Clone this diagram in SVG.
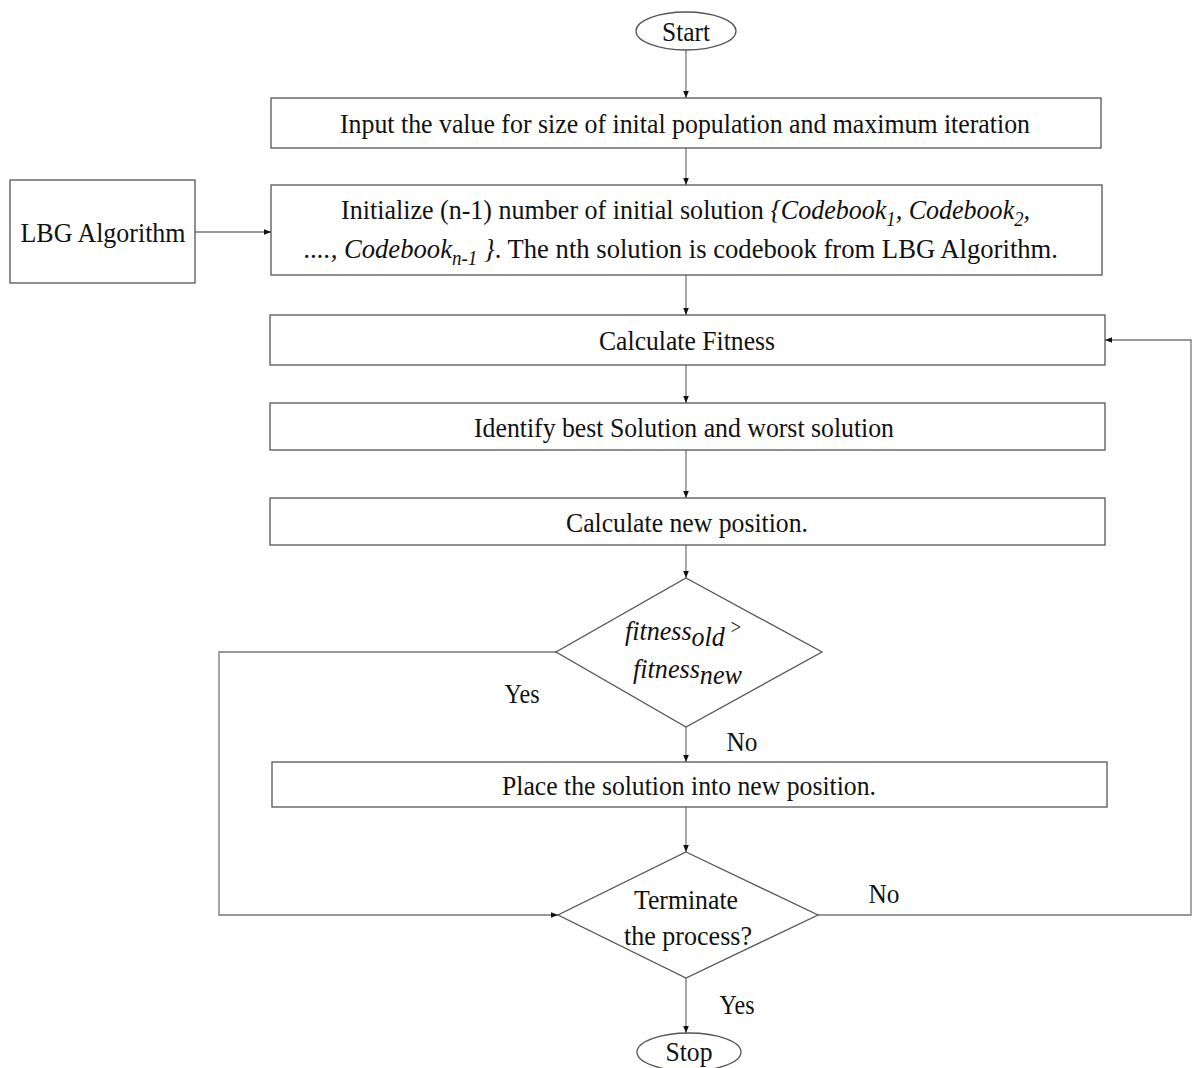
<svg xmlns="http://www.w3.org/2000/svg" width="1192" height="1068" viewBox="0 0 1192 1068">
<style>
.box{fill:#fff;stroke:#555;stroke-width:1.3}
.ln{fill:none;stroke:#777;stroke-width:1.3}
.t{font-family:"Liberation Serif","Times New Roman",serif;font-size:28px;fill:#111;text-anchor:middle}
.i{font-style:italic}
</style>
<defs>
<marker id="ah" viewBox="0 0 10 10" refX="10" refY="5" markerWidth="7" markerHeight="7" markerUnits="userSpaceOnUse" orient="auto">
<path d="M0,1 L10,5 L0,9 Z" fill="#111"/>
</marker>
</defs>
<rect width="1192" height="1068" fill="#fff"/>
<g id="connectors">
<line class="ln" x1="686" y1="50" x2="686" y2="98" marker-end="url(#ah)"/>
<line class="ln" x1="686" y1="148" x2="686" y2="185" marker-end="url(#ah)"/>
<line class="ln" x1="195" y1="232" x2="271" y2="232" marker-end="url(#ah)"/>
<line class="ln" x1="686" y1="275" x2="686" y2="315" marker-end="url(#ah)"/>
<line class="ln" x1="686" y1="365" x2="686" y2="403" marker-end="url(#ah)"/>
<line class="ln" x1="686" y1="450" x2="686" y2="498" marker-end="url(#ah)"/>
<line class="ln" x1="686" y1="545" x2="686" y2="578" marker-end="url(#ah)"/>
<line class="ln" x1="686" y1="727" x2="686" y2="762" marker-end="url(#ah)"/>
<line class="ln" x1="686" y1="807" x2="686" y2="852" marker-end="url(#ah)"/>
<line class="ln" x1="686" y1="978" x2="686" y2="1033" marker-end="url(#ah)"/>
<polyline class="ln" points="556,652 219,652 219,915 558,915" marker-end="url(#ah)"/>
<polyline class="ln" points="818,915 1191,915 1191,340 1105,340" marker-end="url(#ah)"/>
<text class="t" x="522" y="703" textLength="35" lengthAdjust="spacingAndGlyphs">Yes</text>
<text class="t" x="742" y="751" textLength="31" lengthAdjust="spacingAndGlyphs">No</text>
<text class="t" x="884" y="903" textLength="31" lengthAdjust="spacingAndGlyphs">No</text>
<text class="t" x="737" y="1014" textLength="35" lengthAdjust="spacingAndGlyphs">Yes</text>
</g>
<g id="start">
<ellipse class="box" cx="686" cy="31" rx="50" ry="19"/>
<text class="t" x="686" y="41" textLength="48" lengthAdjust="spacingAndGlyphs">Start</text>
</g>
<g id="input">
<rect class="box" x="271" y="98" width="830" height="50"/>
<text class="t" x="685" y="133" textLength="690" lengthAdjust="spacingAndGlyphs">Input the value for size of inital population and maximum iteration</text>
</g>
<g id="lbg">
<rect class="box" x="10" y="180" width="185" height="103"/>
<text class="t" x="103" y="242" textLength="165" lengthAdjust="spacingAndGlyphs">LBG Algorithm</text>
</g>
<g id="init">
<rect class="box" x="271" y="185" width="831" height="90"/>
<text class="t" x="341" y="219" style="text-anchor:start" textLength="689" lengthAdjust="spacingAndGlyphs">Initialize (n-1) number of initial solution <tspan class="i">{Codebook<tspan font-size="20" dy="7">1</tspan><tspan dy="-7">, Codebook</tspan><tspan font-size="20" dy="7">2</tspan><tspan dy="-7">,</tspan></tspan></text>
<text class="t" x="304" y="258" style="text-anchor:start" textLength="754" lengthAdjust="spacingAndGlyphs"><tspan class="i">...., Codebook<tspan font-size="20" dy="7">n-1</tspan><tspan dy="-7"> }</tspan></tspan>. The nth solution is codebook from LBG Algorithm.</text>
</g>
<g id="fitness">
<rect class="box" x="270" y="315" width="835" height="50"/>
<text class="t" x="687" y="350" textLength="176" lengthAdjust="spacingAndGlyphs">Calculate Fitness</text>
</g>
<g id="identify">
<rect class="box" x="270" y="403" width="835" height="47"/>
<text class="t" x="684" y="437" textLength="420" lengthAdjust="spacingAndGlyphs">Identify best Solution and worst solution</text>
</g>
<g id="newpos">
<rect class="box" x="270" y="498" width="835" height="47"/>
<text class="t" x="687" y="532" textLength="242" lengthAdjust="spacingAndGlyphs">Calculate new position.</text>
</g>
<g id="compare">
<polygon class="box" points="686,578 822,652 686,727 556,652"/>
<text class="t i" x="625" y="640" style="text-anchor:start" textLength="117" lengthAdjust="spacingAndGlyphs">fitness<tspan dy="6">old</tspan><tspan dy="-12" font-size="20"> &gt;</tspan></text>
<text class="t i" x="633" y="678" style="text-anchor:start" textLength="109" lengthAdjust="spacingAndGlyphs">fitness<tspan dy="6">new</tspan></text>
</g>
<g id="place">
<rect class="box" x="272" y="762" width="835" height="45"/>
<text class="t" x="689" y="795" textLength="374" lengthAdjust="spacingAndGlyphs">Place the solution into new position.</text>
</g>
<g id="terminate">
<polygon class="box" points="686,852 818,915 686,978 558,915"/>
<text class="t" x="686" y="909" textLength="104" lengthAdjust="spacingAndGlyphs">Terminate</text>
<text class="t" x="688" y="945" textLength="128" lengthAdjust="spacingAndGlyphs">the process?</text>
</g>
<g id="stop">
<ellipse class="box" cx="689" cy="1052" rx="52" ry="19"/>
<text class="t" x="689" y="1061" textLength="47" lengthAdjust="spacingAndGlyphs">Stop</text>
</g>
</svg>
